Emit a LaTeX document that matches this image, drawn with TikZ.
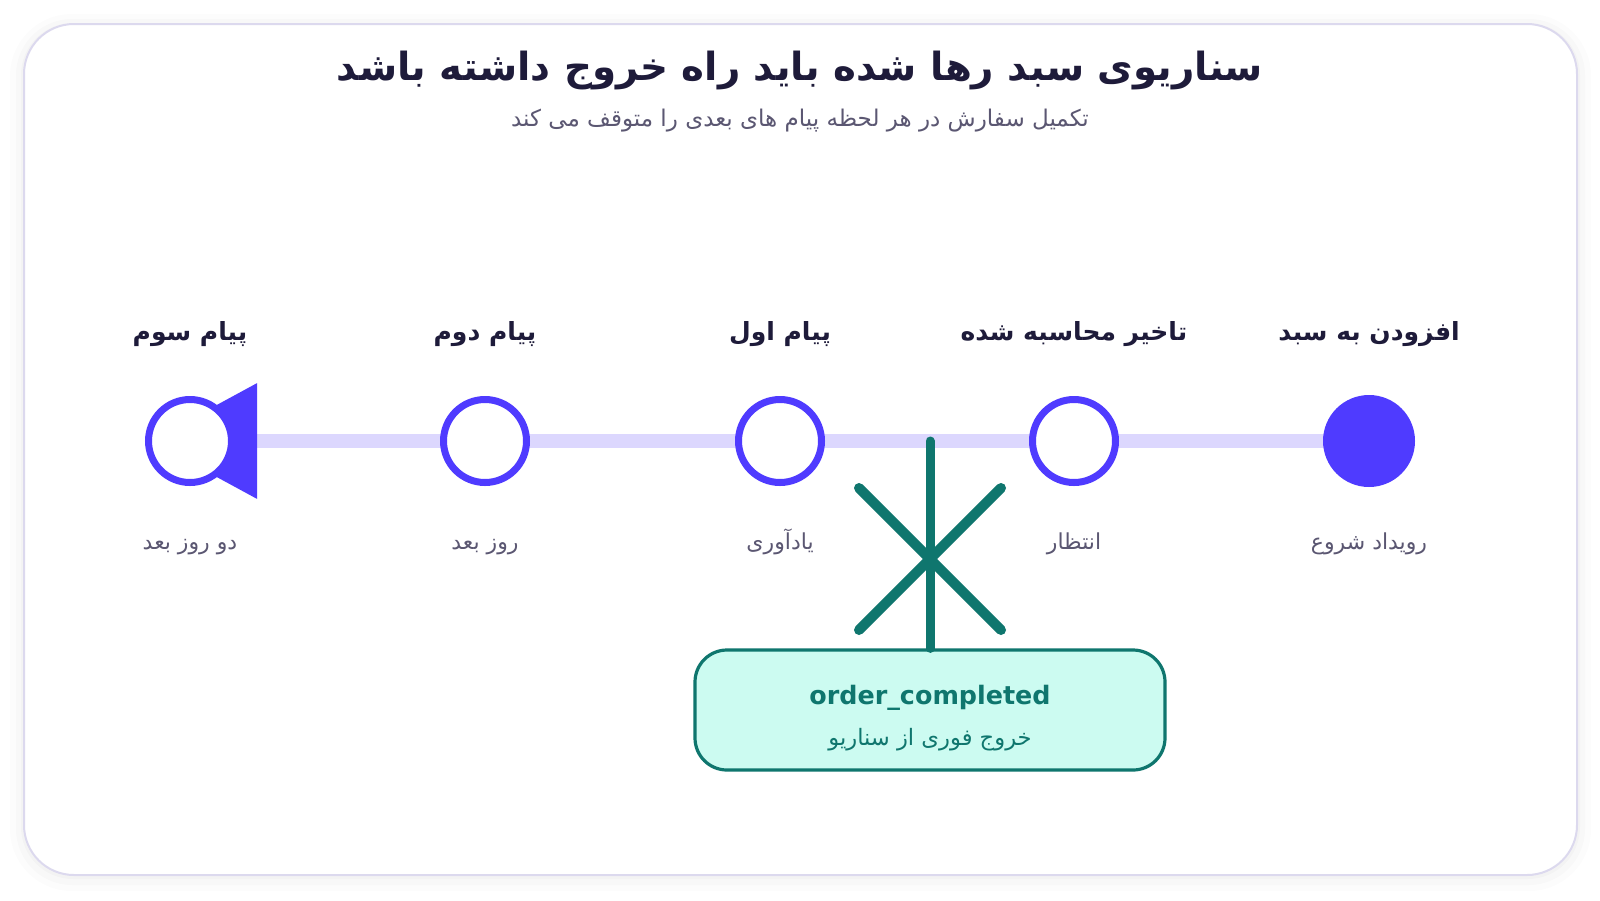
\documentclass[tikz,border=0pt]{standalone}
\usepackage{fontspec}
\setmainfont{DejaVu Sans}
\newfontfamily\farsi[Script=Arabic]{DejaVu Sans}
\TeXXeTstate=1
\usepackage{tikz}
\usetikzlibrary{arrows.meta}
\usetikzlibrary{backgrounds}
\usetikzlibrary{calc}

\definecolor{ink}{HTML}{1E1B3A}
\definecolor{muted}{HTML}{5B5772}
\definecolor{accent}{HTML}{4F3BFF}
\definecolor{trackcol}{HTML}{DCD7FE}
\definecolor{exitgreen}{HTML}{0F766E}
\definecolor{mint}{HTML}{CCFBF1}
\definecolor{cardline}{HTML}{DCD9EE}

\begin{document}
\begin{tikzpicture}[x=0.5pt,y=-0.5pt,
  stage/.style={circle, draw=accent, line width=3.5pt, fill=white,
    minimum size=41.5pt, inner sep=0pt},
  stage start/.style={circle, fill=accent, minimum size=46pt, inner sep=0pt},
  stage title/.style={font=\farsi\bfseries\fontsize{12.5}{15}\selectfont, text=ink,
    anchor=base},
  stage note/.style={font=\farsi\fontsize{11}{13}\selectfont, text=muted,
    anchor=base},
  track/.style={draw=trackcol, line width=7pt},
  exit line/.style={draw=exitgreen, line width=4.5pt, line cap=round},
  exit box/.style={draw=exitgreen, fill=mint, line width=1.6pt,
    rounded corners=16pt, minimum width=235pt, minimum height=60pt}]
  \useasboundingbox (0,0) rectangle (1600,900);

  % heading
  \node[font=\farsi\bfseries\fontsize{19.4}{23}\selectfont, text=ink, anchor=base]
    (heading) at (800,80) {\beginR سناریوی سبد رها شده باید راه خروج داشته باشد\endR};
  \node[font=\farsi\fontsize{11.5}{14}\selectfont, text=muted, anchor=base]
    (subheading) at (800,126) {\beginR تکمیل سفارش در هر لحظه پیام های بعدی را متوقف می کند\endR};

  % stages, right to left
  \node[stage start] (cart) at (1369,441) {};
  \node[stage] (delay) at (1074,441) {};
  \node[stage] (msg1) at (780,441) {};
  \node[stage] (msg2) at (485,441) {};
  \node[stage] (msg3) at (190,441) {};

  \node[stage title] (cart title) at ($(cart)+(0,-101)$) {\beginR افزودن به سبد\endR};
  \node[stage title] (delay title) at ($(delay)+(0,-101)$) {\beginR تاخیر محاسبه شده\endR};
  \node[stage title] (msg1 title) at ($(msg1)+(0,-101)$) {\beginR پیام اول\endR};
  \node[stage title] (msg2 title) at ($(msg2)+(0,-101)$) {\beginR پیام دوم\endR};
  \node[stage title] (msg3 title) at ($(msg3)+(0,-101)$) {\beginR پیام سوم\endR};

  \node[stage note] (cart note) at ($(cart)+(0,108)$) {\beginR رویداد شروع\endR};
  \node[stage note] (delay note) at ($(delay)+(0,108)$) {\beginR انتظار\endR};
  \node[stage note] (msg1 note) at ($(msg1)+(0,108)$) {\beginR یادآوری\endR};
  \node[stage note] (msg2 note) at ($(msg2)+(0,108)$) {\beginR روز بعد\endR};
  \node[stage note] (msg3 note) at ($(msg3)+(0,108)$) {\beginR دو روز بعد\endR};

  % exit on order_completed
  \node[exit box] (done) at (930,710) {};
  \node[font=\bfseries\fontsize{12.7}{15}\selectfont, text=exitgreen, anchor=base]
    (done name) at (930,704) {order\_completed};
  \node[font=\farsi\fontsize{11.3}{13}\selectfont, text=exitgreen, anchor=base]
    (done note) at (930,745) {\beginR خروج فوری از سناریو\endR};
  \coordinate (exit) at (930,441);
  \coordinate (cross) at (930,559);
  \draw[exit line] (exit) -- (done.north);
  \draw[exit line, line width=5pt] ($(cross)+(-71,-71)$) -- ($(cross)+(71,71)$);
  \draw[exit line, line width=5pt] ($(cross)+(71,-71)$) -- ($(cross)+(-71,71)$);

  \begin{scope}[on background layer]
    \fill[black, opacity=0.012, rounded corners=31pt] (10,14) rectangle (1591,891);
    \fill[black, opacity=0.015, rounded corners=28pt] (16,19) rectangle (1585,885);
    \fill[black, opacity=0.02, rounded corners=26pt] (21,23) rectangle (1580,879);
    \filldraw[fill=white, draw=cardline, line width=1pt, rounded corners=25pt]
      (24,24) rectangle (1577,875);
    \draw[track, -{Triangle[length=53.5pt, width=56pt, color=accent]}]
      (cart.center) -- ($(msg3.center)+(-40,0)$);
  \end{scope}
\end{tikzpicture}
\end{document}
